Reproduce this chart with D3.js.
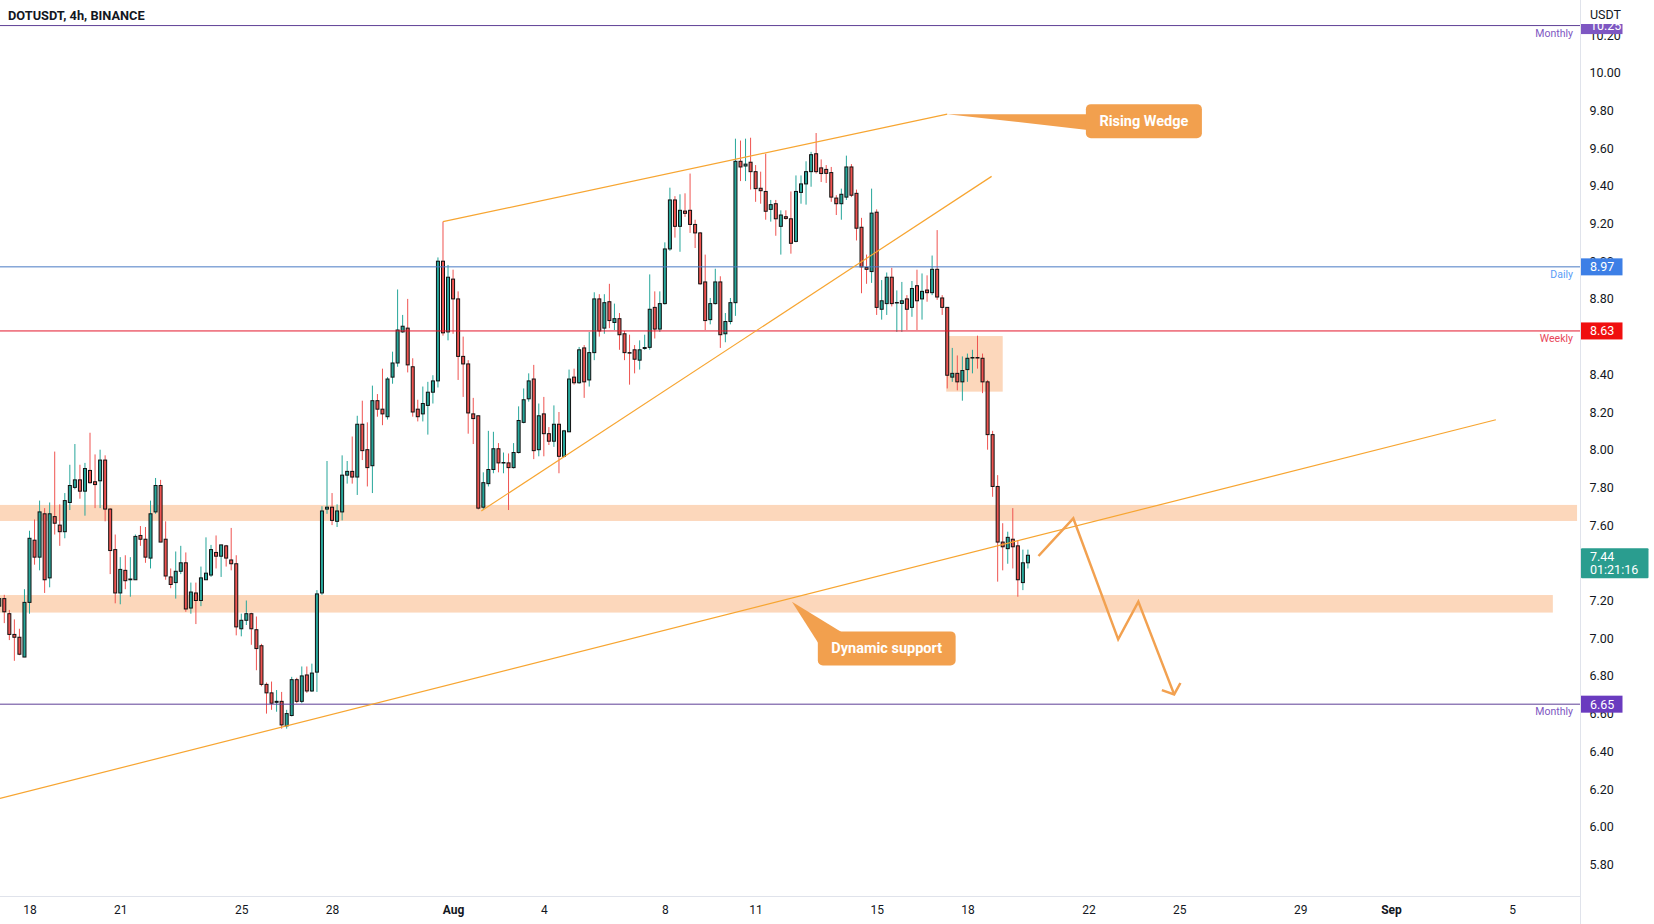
<!DOCTYPE html>
<html><head><meta charset="utf-8">
<script src="https://cdn.jsdelivr.net/npm/d3@7"></script>
<style>
body{margin:0;background:#fff}
svg{display:block}
text{font-family:Roboto,"Noto Sans",sans-serif}
</style>
</head><body>
<svg id="chart" width="1654" height="924"></svg>
<script>
// ---------------- DATA ----------------
const title = "DOTUSDT, 4h, BINANCE";
const currency = "USDT";
// first candle: 2022-07-17 00:00 UTC, 4h bars
const firstCandle = Date.UTC(2022, 6, 17, 0);
const barHours = 4;

const opens = [7.17,7.21,7.13,7.02,7.005,6.90,7.19,7.52,7.43,7.66,7.32,7.645,7.60,7.565,7.72,7.80,7.84,7.78,7.89,7.83,7.835,7.945,7.685,7.47,7.24,7.36,7.31,7.31,7.545,7.525,7.425,7.67,7.81,7.525,7.325,7.295,7.355,7.40,7.16,7.24,7.20,7.31,7.335,7.455,7.435,7.49,7.415,7.395,7.05,7.095,7.13,7.045,6.96,6.755,6.71,6.66,6.665,6.535,6.59,6.78,6.665,6.805,6.72,6.82,7.24,7.685,7.695,7.62,7.67,7.865,7.885,7.855,8.135,8.00,7.915,8.26,8.215,8.175,8.385,8.46,8.625,8.645,8.44,8.215,8.19,8.235,8.305,8.365,9.00,8.625,8.905,8.80,8.495,8.455,8.19,8.18,7.695,7.82,7.895,8.005,7.93,7.93,7.905,7.985,8.145,8.27,8.375,8.00,8.19,8.085,8.045,8.135,7.965,8.095,8.385,8.355,8.54,8.37,8.515,8.80,8.645,8.785,8.675,8.695,8.615,8.515,8.53,8.475,8.537,8.543,8.755,8.64,8.775,9.065,9.325,9.185,9.266,9.27,9.195,9.15,8.89,8.69,8.775,8.89,8.615,8.68,8.78,9.53,9.505,9.525,9.475,9.387,9.37,9.275,9.305,9.185,9.236,9.225,9.105,9.365,9.41,9.475,9.57,9.495,9.487,9.47,9.335,9.305,9.34,9.50,9.36,9.18,8.967,8.945,9.26,8.745,8.775,8.915,8.78,8.776,8.80,8.755,8.87,8.80,8.847,8.833,8.957,8.805,8.755,8.385,8.405,8.36,8.425,8.488,8.489,8.485,8.36,8.08,7.805,7.51,7.475,7.525,7.49,7.295,7.40];
const highs = [7.23,7.23,7.15,7.10,7.05,7.26,7.57,7.63,7.73,7.69,7.72,7.99,7.71,7.77,7.92,8.03,7.92,7.93,8.09,7.975,8.00,7.97,7.69,7.55,7.43,7.44,7.43,7.55,7.595,7.59,7.73,7.85,7.84,7.62,7.37,7.46,7.49,7.455,7.295,7.295,7.38,7.535,7.495,7.545,7.495,7.495,7.585,7.44,7.13,7.20,7.135,7.115,6.97,6.765,6.77,6.725,6.715,6.62,6.795,6.79,6.85,6.85,6.865,7.255,7.70,7.94,7.77,7.71,7.97,7.94,8.07,8.18,8.26,8.145,8.34,8.295,8.43,8.385,8.52,8.85,8.715,8.80,8.485,8.265,8.335,8.36,8.395,9.02,9.21,8.98,8.955,8.84,8.60,8.475,8.275,8.18,7.88,8.10,8.095,8.035,7.985,7.98,8.035,8.23,8.325,8.405,8.45,8.245,8.28,8.12,8.235,8.20,8.105,8.425,8.43,8.545,8.555,8.625,8.835,8.825,8.825,8.88,8.775,8.725,8.63,8.61,8.555,8.58,8.61,8.93,8.84,8.84,9.10,9.39,9.345,9.355,9.36,9.465,9.22,9.155,9.035,8.805,8.96,8.92,8.725,8.805,9.65,9.64,9.65,9.655,9.51,9.475,9.57,9.325,9.325,9.27,9.27,9.37,9.455,9.455,9.53,9.58,9.68,9.54,9.51,9.50,9.35,9.385,9.56,9.515,9.38,9.23,9.035,9.385,9.275,8.90,8.94,8.965,8.845,8.89,8.82,8.895,8.955,8.935,8.925,9.03,9.165,8.82,8.755,8.54,8.50,8.495,8.51,8.53,8.605,8.51,8.37,8.10,7.865,7.61,7.565,7.69,7.52,7.47,7.47];
const lows = [7.15,7.08,6.99,6.88,6.91,6.90,7.13,7.39,7.36,7.24,7.27,7.55,7.49,7.53,7.68,7.79,7.74,7.65,7.82,7.69,7.69,7.62,7.34,7.185,7.18,7.26,7.22,7.31,7.49,7.40,7.37,7.66,7.51,7.31,7.265,7.21,7.34,7.14,7.13,7.075,7.17,7.31,7.325,7.37,7.325,7.38,7.36,7.015,7.01,7.07,6.965,6.83,6.745,6.60,6.62,6.61,6.52,6.52,6.585,6.655,6.655,6.71,6.715,6.715,7.23,7.66,7.60,7.59,7.625,7.82,7.82,7.76,7.945,7.805,7.77,8.175,8.13,8.16,8.35,8.44,8.62,8.41,8.175,8.15,8.15,8.08,8.245,8.33,8.605,8.58,8.615,8.37,8.28,8.085,8.03,7.683,7.68,7.805,7.875,7.88,7.875,7.68,7.90,7.98,8.14,8.255,7.95,7.965,7.965,8.025,8.015,7.875,7.96,8.095,8.345,8.35,8.275,8.335,8.475,8.60,8.615,8.645,8.635,8.53,8.475,8.345,8.405,8.425,8.53,8.53,8.59,8.625,8.77,9.055,9.125,9.05,9.235,9.15,9.07,8.875,8.635,8.665,8.77,8.54,8.57,8.665,8.71,9.425,9.425,9.38,9.315,9.305,9.22,9.21,9.135,9.035,9.22,9.04,9.10,9.305,9.30,9.395,9.465,9.42,9.415,9.315,9.245,9.22,9.325,9.34,9.11,8.83,8.88,8.885,8.715,8.69,8.715,8.76,8.625,8.625,8.635,8.705,8.635,8.69,8.785,8.82,8.795,8.715,8.325,8.36,8.315,8.26,8.36,8.405,8.43,8.30,8.00,7.75,7.30,7.36,7.395,7.37,7.22,7.255,7.37];
const closes = [7.21,7.14,7.02,7.005,6.915,7.19,7.53,7.43,7.67,7.31,7.66,7.61,7.565,7.73,7.81,7.84,7.78,7.90,7.825,7.815,7.945,7.685,7.465,7.24,7.365,7.305,7.314,7.54,7.525,7.43,7.66,7.81,7.51,7.33,7.285,7.355,7.40,7.155,7.245,7.20,7.32,7.345,7.47,7.435,7.495,7.425,7.395,7.06,7.095,7.13,7.05,6.945,6.755,6.71,6.655,6.665,6.54,6.60,6.78,6.665,6.80,6.72,6.815,7.235,7.675,7.695,7.625,7.675,7.865,7.885,7.855,8.135,7.995,7.905,8.26,8.215,8.19,8.375,8.46,8.635,8.655,8.45,8.20,8.175,8.245,8.305,8.365,9.00,8.62,8.915,8.80,8.495,8.455,8.195,8.165,7.69,7.825,7.895,8.005,7.93,7.932,7.905,7.985,8.155,8.265,8.365,7.995,8.18,8.085,8.045,8.135,7.965,8.10,8.375,8.355,8.53,8.36,8.515,8.80,8.63,8.78,8.685,8.695,8.61,8.515,8.513,8.48,8.53,8.542,8.745,8.64,8.775,9.065,9.325,9.185,9.27,9.254,9.195,9.15,8.88,8.685,8.775,8.89,8.61,8.68,8.78,9.53,9.50,9.515,9.475,9.385,9.374,9.265,9.30,9.225,9.245,9.227,9.095,9.37,9.41,9.475,9.565,9.475,9.465,9.466,9.34,9.305,9.355,9.50,9.35,9.175,8.97,8.957,9.255,8.755,8.79,8.915,8.775,8.781,8.79,8.745,8.855,8.79,8.84,8.833,8.957,8.81,8.755,8.395,8.405,8.36,8.42,8.485,8.489,8.488,8.36,8.08,7.805,7.51,7.485,7.535,7.485,7.31,7.40,7.44];

const xTickDates = ["2022-07-18","2022-07-21","2022-07-25","2022-07-28","2022-08-01","2022-08-04","2022-08-08","2022-08-11","2022-08-15","2022-08-18","2022-08-22","2022-08-25","2022-08-29","2022-09-01","2022-09-05"];
const xTickLabels = ["18","21","25","28","Aug","4","8","11","15","18","22","25","29","Sep","5"];
// 8.60 and 7.40 sit fully under price tags in the reference, so they are not shown
const yTicks = [5.8,6.0,6.2,6.4,6.6,6.8,7.0,7.2,7.6,7.8,8.0,8.2,8.4,8.8,9.0,9.2,9.4,9.6,9.8,10.0,10.2];

// horizontal levels
const levelNames = ["Monthly","Daily","Weekly","Monthly"];
const levelPrices = [10.25, 8.97, 8.63, 6.65];
const levelLineColors = ["#5e3f96","#4a7bc4","#e3162b","#5e3f96"];
const levelTextColors = ["#7e57c2","#5b9cf6","#e8475a","#7e57c2"];
const levelBoxColors = ["#7e57c2","#3d7fe6","#f00f0f","#6a3bbf"];

// zones: [startBar, endBar, lowPrice, highPrice]  (bar offsets counted from 2022-07-18 00:00)
const zoneStart = [-12, -12, 181.8];
const zoneEnd = [306.9, 302.1, 193.0];
const zoneLow = [7.622, 7.136, 8.308];
const zoneHigh = [7.707, 7.229, 8.603];

// trend lines [bar, price] pairs
const trendBars = [[82.0, 182.0], [89.6, 190.8], [-5.85, 290.8]];
const trendPrices = [[9.21, 9.78], [7.675, 9.45], [6.150, 8.159]];

// projected path
const pathBars = [200.1, 207.0, 215.9, 219.9, 227.0];
const pathPrices = [7.436, 7.636, 6.994, 7.194, 6.702];

// callouts
const calloutTexts = ["Rising Wedge", "Dynamic support"];
const calloutTipBar = [182.0, 151.2];
const calloutTipPrice = [9.78, 7.194];
const calloutBoxBar = [221.0, 170.0];
const calloutBoxPrice = [9.743, 6.946];

const lastPrice = 7.44;
const countdown = "01:21:16";

// ---------------- DRAW ----------------
const W = 1654, H = 924;
const plotRight = 1580.5, plotBottom = 896.5;
const svg = d3.select("#chart");
const base = Date.UTC(2022, 6, 18);
const barTime = b => new Date(base + b * barHours * 3600e3);

const x = d3.scaleUtc()
  .domain([new Date(Date.UTC(2022,6,18)), new Date(Date.UTC(2022,8,5))])
  .range([29.5, 1512]);
const y = d3.scaleLinear().domain([5.8, 10]).range([864.4, 72.7]);

svg.append("rect").attr("width", W).attr("height", H).attr("fill", "#fff");

svg.append("defs").append("clipPath").attr("id","plot")
  .append("rect").attr("x",0).attr("y",0).attr("width",plotRight).attr("height",plotBottom);

const plot = svg.append("g").attr("clip-path","url(#plot)");

// zones
plot.selectAll("rect.zone").data(zoneStart).join("rect")
  .attr("class","zone")
  .attr("x", (d,i) => x(barTime(zoneStart[i])))
  .attr("width", (d,i) => x(barTime(zoneEnd[i])) - x(barTime(zoneStart[i])))
  .attr("y", (d,i) => y(zoneHigh[i]))
  .attr("height", (d,i) => y(zoneLow[i]) - y(zoneHigh[i]))
  .attr("fill", "rgba(245,140,60,0.35)");

// candles
const candles = opens.map((o,i) => ({t: new Date(firstCandle + i*barHours*3600e3), o, h: highs[i], l: lows[i], c: closes[i]}));
const upCol = "#26a69a", dnCol = "#ef5350";
const cg = plot.append("g");
cg.selectAll("line.wick").data(candles).join("line")
  .attr("x1", d => x(d.t)).attr("x2", d => x(d.t))
  .attr("y1", d => y(d.h)).attr("y2", d => y(d.l))
  .attr("stroke", d => d.c >= d.o ? upCol : dnCol).attr("stroke-width", 1);
cg.selectAll("rect.body").data(candles).join("rect")
  .attr("x", d => x(d.t) - 1.5).attr("width", 3)
  .attr("y", d => y(Math.max(d.o, d.c)))
  .attr("height", d => Math.max(0.5, Math.abs(y(d.o) - y(d.c))))
  .attr("fill", d => d.c >= d.o ? upCol : dnCol)
  .attr("stroke", "#111").attr("stroke-width", 1);

// level lines
plot.selectAll("line.level").data(levelPrices).join("line")
  .attr("x1", 0).attr("x2", plotRight)
  .attr("y1", d => y(d)).attr("y2", d => y(d))
  .attr("stroke", (d,i) => levelLineColors[i]).attr("stroke-width", 1);
plot.selectAll("text.level").data(levelPrices).join("text")
  .attr("x", 1573).attr("y", d => y(d) + 11)
  .attr("text-anchor","end").attr("font-size", 10.5)
  .attr("fill", (d,i) => levelTextColors[i])
  .text((d,i) => levelNames[i]);

// trend lines
const line = d3.line().x(d => x(barTime(d[0]))).y(d => y(d[1]));
trendBars.forEach((b,i) => {
  plot.append("path")
    .attr("d", line([[b[0], trendPrices[i][0]],[b[1], trendPrices[i][1]]]))
    .attr("stroke", "#f7a531").attr("stroke-width", 1.2).attr("fill","none");
});

// projection path
const projColor = "#f2a150";
const pts = pathBars.map((b,i) => [b, pathPrices[i]]);
plot.append("path").attr("d", line(pts))
  .attr("stroke", projColor).attr("stroke-width", 2.5).attr("fill","none")
  .attr("stroke-linejoin","miter");
{
  const n = pts.length;
  const ex = x(barTime(pts[n-1][0])), ey = y(pts[n-1][1]);
  const px = x(barTime(pts[n-2][0])), py = y(pts[n-2][1]);
  const ang = Math.atan2(py - ey, px - ex);
  const L = 13, spread = 50 * Math.PI/180;
  const a1 = [ex + L*Math.cos(ang - spread), ey + L*Math.sin(ang - spread)];
  const a2 = [ex + L*Math.cos(ang + spread), ey + L*Math.sin(ang + spread)];
  plot.append("path").attr("d", `M${a1[0]},${a1[1]}L${ex},${ey}L${a2[0]},${a2[1]}`)
    .attr("stroke", projColor).attr("stroke-width", 2.5).attr("fill","none");
}

// callouts
const calloutColor = "#f2a04e";
calloutTexts.forEach((txt, i) => {
  const tx = x(barTime(calloutTipBar[i])), ty = y(calloutTipPrice[i]);
  const cx = x(barTime(calloutBoxBar[i])), cy = y(calloutBoxPrice[i]);
  const g = plot.append("g");
  const t = g.append("text").attr("x", cx).attr("y", cy + 5)
    .attr("text-anchor","middle").attr("font-size", 14.5).attr("font-weight","bold")
    .attr("fill","#fff").text(txt);
  const bw = t.node().getComputedTextLength() + 27, bh = 34;
  const bx = cx - bw/2, by = cy - bh/2;
  let tri;
  if (i === 0) tri = [[tx,ty],[bx+4, cy-7],[bx+4, cy+9]];
  else tri = [[tx,ty],[bx+2, by+14],[bx+26, by+2]];
  g.insert("path","text").attr("d", "M" + tri.map(p=>p.join(",")).join("L") + "Z").attr("fill", calloutColor);
  g.insert("rect","text").attr("x", bx).attr("y", by).attr("width", bw).attr("height", bh)
    .attr("rx", 5).attr("fill", calloutColor);
});

// axes frame
svg.append("line").attr("x1", plotRight).attr("x2", plotRight).attr("y1", 0).attr("y2", H)
  .attr("stroke", "#e0e3eb");
svg.append("line").attr("x1", 0).attr("x2", plotRight).attr("y1", plotBottom).attr("y2", plotBottom)
  .attr("stroke", "#e0e3eb");

// y axis
const yAxis = d3.axisRight(y).tickValues(yTicks).tickSize(0).tickPadding(9).tickFormat(d3.format(".2f"));
const yg = svg.append("g").attr("transform", `translate(${plotRight},0)`).call(yAxis);
yg.select(".domain").remove();
yg.selectAll("text").attr("font-size", 12.5).attr("fill", "#131722").attr("font-family","Roboto, sans-serif");

// x axis
const xDates = xTickDates.map(s => new Date(s + "T00:00:00Z"));
const xAxis = d3.axisBottom(x).tickValues(xDates).tickSize(0).tickPadding(9)
  .tickFormat((d,i) => xTickLabels[i]);
const xg = svg.append("g").attr("transform", `translate(0,${plotBottom})`).call(xAxis);
xg.select(".domain").remove();
xg.selectAll("text").attr("font-size", 12).attr("fill", "#131722").attr("font-family","Roboto, sans-serif")
  .attr("font-weight", (d,i) => (xTickLabels[i] === "Aug" || xTickLabels[i] === "Sep") ? "bold" : "normal");

// price boxes on axis
levelPrices.forEach((p,i) => {
  const cy = y(p);
  svg.append("rect").attr("x", plotRight + 0.5).attr("y", cy - 8.5).attr("width", 41.5).attr("height", 17)
    .attr("fill", levelBoxColors[i]);
  svg.append("text").attr("x", 1590).attr("y", cy + 4.5).attr("font-size", 12.5).attr("fill","#fff")
    .text(d3.format(".2f")(p));
});
{
  const cy = y(lastPrice);
  svg.append("rect").attr("x", plotRight + 0.5).attr("y", cy - 7).attr("width", 67.5).attr("height", 30)
    .attr("rx", 1).attr("fill", "#2a9d8f");
  svg.append("text").attr("x", 1590).attr("y", cy + 5.5).attr("font-size", 12.5).attr("fill","#fff")
    .text(d3.format(".2f")(lastPrice));
  svg.append("text").attr("x", 1590).attr("y", cy + 19).attr("font-size", 12.5).attr("fill","#fff")
    .text(countdown);
}

// header cover on axis & labels
svg.append("rect").attr("x", plotRight + 0.5).attr("y", 0).attr("width", W - plotRight).attr("height", 24)
  .attr("fill", "#fff");
svg.append("text").attr("x", 1590).attr("y", 18.5).attr("font-size", 12.5).attr("fill","#131722").text(currency);
svg.append("text").attr("x", 8).attr("y", 20).attr("font-size", 12.8).attr("font-weight","bold")
  .attr("fill","#131722").text(title);
</script>
</body></html>
